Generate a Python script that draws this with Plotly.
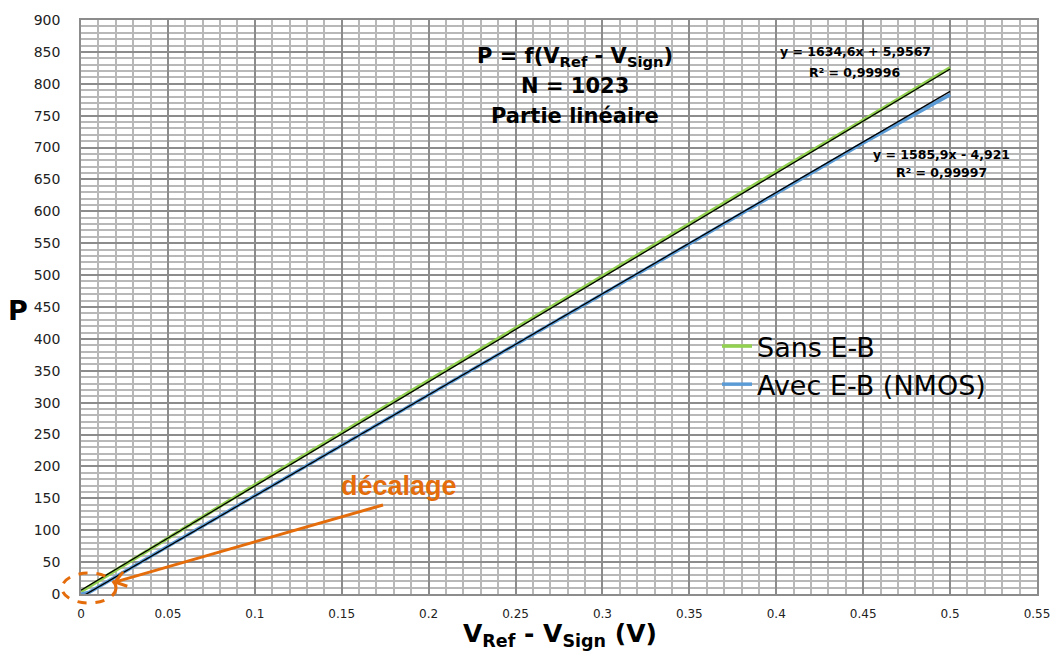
import math
import plotly.graph_objects as go

# ---------------- data ----------------
v_sans = [0.0, 0.05, 0.10, 0.15, 0.20, 0.25, 0.30, 0.35, 0.40, 0.45, 0.50]
p_sans = [4, 88, 171, 253, 335, 417, 499, 581, 662, 743, 825]

v_avec = [0.0, 0.005, 0.05, 0.10, 0.15, 0.20, 0.25, 0.30, 0.35, 0.40, 0.45, 0.50]
p_avec = [0, 3, 75, 154, 233, 313, 392, 471, 550, 629, 707, 783]

# linear trendlines shown on the chart (slope, intercept)
fit_sans = (1634.6, 5.9567)
fit_avec = (1585.9, -4.921)
trend_x = [0.0, 0.5]

legend_names = ["Sans E-B", "Avec E-B (NMOS)"]
eq_sans = ["y = 1634,6x + 5,9567", "R² = 0,99996"]
eq_avec = ["y = 1585,9x - 4,921", "R² = 0,99997"]

# ---------------- layout helpers ----------------
W, H = 1051, 652
L, R, T, B = 81, 14, 20, 58
PW, PH = W - L - R, H - T - B


def px(xp):
    return (xp - L) / PW


def py(yp):
    return (H - B - yp) / PH


GREEN = "#92D050"
BLUE = "#5B9BD5"
ORANGE = "#E46C0A"
WIDE = "DejaVu Sans, Verdana, sans-serif"

fig = go.Figure()
fig.add_trace(go.Scatter(x=v_sans, y=p_sans, mode="lines", name=legend_names[0],
                         line=dict(color=GREEN, width=3.5)))
fig.add_trace(go.Scatter(x=v_avec, y=p_avec, mode="lines", name=legend_names[1],
                         line=dict(color=BLUE, width=3.5)))
for a, b in (fit_sans, fit_avec):
    fig.add_trace(go.Scatter(x=trend_x, y=[a * v + b for v in trend_x], mode="lines",
                             showlegend=False, hoverinfo="skip",
                             line=dict(color="black", width=1.3)))

annotations = []
# chart title lines
for txt, yp in (("P = f(V<sub>Ref</sub> - V<sub>Sign</sub>)", 57),
                ("N = 1023", 86), ("Partie linéaire", 116)):
    annotations.append(dict(text="<b>%s</b>" % txt, xref="paper", yref="paper",
                            x=px(575), y=py(yp), xanchor="center", yanchor="middle",
                            showarrow=False, font=dict(family=WIDE, size=21, color="black")))
# trendline equations
for (l1, l2), cx, y1, y2 in ((eq_sans, 855, 52, 72), (eq_avec, 941, 155, 172)):
    for txt, yp in ((l1, y1), (l2, y2)):
        annotations.append(dict(text="<b>%s</b>" % txt, xref="paper", yref="paper",
                                x=px(cx), y=py(yp), xanchor="center", yanchor="middle",
                                showarrow=False, font=dict(family=WIDE, size=12.5, color="black")))
# axis titles
annotations.append(dict(text="<b>P</b>", xref="paper", yref="paper", x=px(18), y=py(311),
                        xanchor="center", yanchor="middle", showarrow=False,
                        font=dict(family=WIDE, size=27, color="black")))
annotations.append(dict(text="<b>V<sub>Ref</sub> - V<sub>Sign</sub> (V)</b>", xref="paper", yref="paper",
                        x=px(560), y=py(635), xanchor="center", yanchor="middle", showarrow=False,
                        font=dict(family=WIDE, size=25, color="black")))
# "décalage" label
annotations.append(dict(text="<b>décalage</b>", xref="paper", yref="paper", x=px(399), y=py(486),
                        xanchor="center", yanchor="middle", showarrow=False,
                        font=dict(family="Liberation Sans, Arial, sans-serif", size=27, color=ORANGE)))

# arrow (shaft + open head) and dashed ellipse
tail = (383, 505)
head = (115, 582)
dx, dy = tail[0] - head[0], tail[1] - head[1]
ln = math.hypot(dx, dy)
ux, uy = dx / ln, dy / ln
arm = 13
pts = []
for ang in (math.radians(35), math.radians(-35)):
    rx = ux * math.cos(ang) - uy * math.sin(ang)
    ry = ux * math.sin(ang) + uy * math.cos(ang)
    pts.append((head[0] + arm * rx, head[1] + arm * ry))

shapes = [
    dict(type="line", xref="paper", yref="paper", x0=px(tail[0]), y0=py(tail[1]),
         x1=px(head[0] + 1.5 * ux), y1=py(head[1] + 1.5 * uy), line=dict(color=ORANGE, width=3)),
    dict(type="path", xref="paper", yref="paper",
         path="M %f %f L %f %f L %f %f" % (px(pts[0][0]), py(pts[0][1]), px(head[0]), py(head[1]),
                                           px(pts[1][0]), py(pts[1][1])),
         line=dict(color=ORANGE, width=3)),
    dict(type="circle", xref="paper", yref="paper", x0=px(62), x1=px(116), y0=py(603), y1=py(573),
         line=dict(color=ORANGE, width=3, dash="dash")),
]

fig.update_layout(
    width=W, height=H,
    margin=dict(l=L, r=R, t=T, b=B, pad=0, autoexpand=False),
    paper_bgcolor="white", plot_bgcolor="white",
    showlegend=True,
    legend=dict(x=px(717), y=py(322), xanchor="left", yanchor="top",
                bgcolor="rgba(0,0,0,0)", font=dict(family=WIDE, size=27, color="black"),
                tracegroupgap=0, itemwidth=30),
    annotations=annotations,
    shapes=shapes,
    xaxis=dict(range=[0, 0.55], dtick=0.05, tick0=0, showgrid=True, gridcolor="#8c8c8c", gridwidth=1.5,
               minor=dict(dtick=0.01, showgrid=True, gridcolor="#b8b8b8", gridwidth=1.5),
               showline=True, linecolor="#8c8c8c", linewidth=1.5, mirror=True, zeroline=False,
               ticks="", tickfont=dict(family=WIDE, size=12, color="#222"),
               ticklabelstandoff=8, automargin=False),
    yaxis=dict(range=[0, 900], dtick=50, tick0=0, showgrid=True, gridcolor="#8c8c8c", gridwidth=1.5,
               minor=dict(dtick=10, showgrid=True, gridcolor="#b8b8b8", gridwidth=1.5),
               showline=True, linecolor="#8c8c8c", linewidth=1.5, mirror=True, zeroline=False,
               ticks="", tickfont=dict(family=WIDE, size=14, color="#222"),
               ticklabelstandoff=16, automargin=False),
)

fig.write_html("out.html",
               config={"displayModeBar": False},
               post_script="document.body.style.margin='0';"
                           "document.documentElement.style.overflow='hidden';"
                           "document.body.style.overflow='hidden';")
